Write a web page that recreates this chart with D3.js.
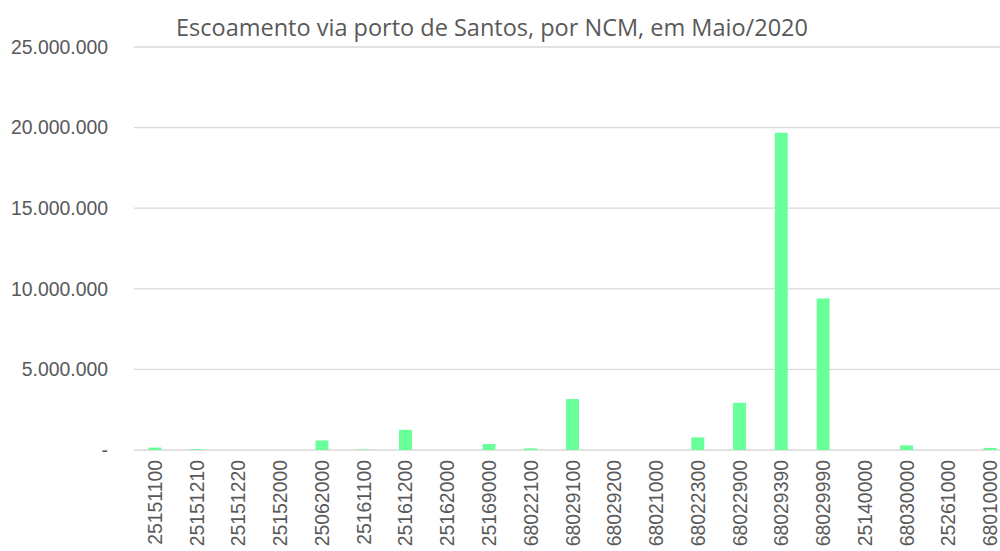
<!DOCTYPE html>
<html>
<head>
<meta charset="utf-8">
<script src="https://cdn.jsdelivr.net/npm/d3@7"></script>
<style>
  body { margin: 0; background: #fff; }
  svg { display: block; }
</style>
</head>
<body>
<div id="container"></div>
<script>
/* DATA */
const title = "Escoamento via porto de Santos, por NCM, em Maio/2020"
const categories = ["25151100", "25151210", "25151220", "25152000", "25062000", "25161100",
  "25161200", "25162000", "25169000", "68022100", "68029100", "68029200", "68021000",
  "68022300", "68022900", "68029390", "68029990", "25140000", "68030000", "25261000", "68010000"]
const values = [150000, 50000, 0, 0, 590000, 30000,
  1250000, 0, 370000, 100000, 3160000, 0, 0,
  780000, 2930000, 19680000, 9400000, 0, 290000, 0, 130000]
const yTicks = [0, 5000000, 10000000, 15000000, 20000000, 25000000]

/* CONSTANTS */
const width = 1000,
  height = 551,
  margin = { top: 47, bottom: 101, left: 134, right: -11 }

const fmt = d => d === 0 ? "-" : d3.format(",")(d).replace(/,/g, ".")

const svg = d3.select("#container")
  .append("svg")
  .attr("width", width)
  .attr("height", height)
  .style("font-family", "'Open Sans', sans-serif")

/* SCALES */
const xScale = d3.scaleBand()
  .domain(categories)
  .range([margin.left, width - margin.right])
  .paddingInner(0.69)
  .paddingOuter(0.345)

const yScale = d3.scaleLinear()
  .domain([0, 25000000])
  .range([height - margin.bottom, margin.top])

// gridlines
svg.append("g")
  .selectAll("line")
  .data(yTicks)
  .join("line")
  .attr("x1", margin.left)
  .attr("x2", width - margin.right)
  .attr("y1", d => yScale(d))
  .attr("y2", d => yScale(d))
  .attr("stroke", "#d9d9d9")
  .attr("stroke-width", 1.3)

// y axis
const yAxis = d3.axisLeft(yScale)
  .tickValues(yTicks)
  .tickFormat(fmt)
  .tickSize(0)
  .tickPadding(26)

svg.append("g")
  .attr("transform", `translate(${margin.left},0)`)
  .call(yAxis)
  .call(g => g.select(".domain").remove())
  .selectAll("text")
  .attr("fill", "#595959")
  .style("font-size", "19.4px")

// bars
svg.selectAll(".bar")
  .data(values)
  .join("rect")
  .attr("class", "bar")
  .attr("x", (d, i) => xScale(categories[i]))
  .attr("width", xScale.bandwidth())
  .attr("y", d => yScale(d))
  .attr("height", d => yScale(0) - yScale(d))
  .attr("fill", "#69ff99")

// x axis
const xAxis = d3.axisBottom(xScale)
  .tickSize(0)
  .tickPadding(10)

svg.append("g")
  .attr("transform", `translate(0,${yScale(0)})`)
  .call(xAxis)
  .call(g => g.select(".domain").remove())
  .selectAll("text")
  .attr("fill", "#595959")
  .style("font-size", "19.4px")
  .attr("text-anchor", "end")
  .attr("dominant-baseline", "central")
  .attr("transform", "rotate(-90)")
  .attr("x", -10)
  .attr("y", 0)
  .attr("dy", null)

// title
svg.append("text")
  .attr("x", 492)
  .attr("y", 36)
  .attr("text-anchor", "middle")
  .attr("fill", "#595959")
  .style("font-size", "23.5px")
  .text(title)
</script>
</body>
</html>
